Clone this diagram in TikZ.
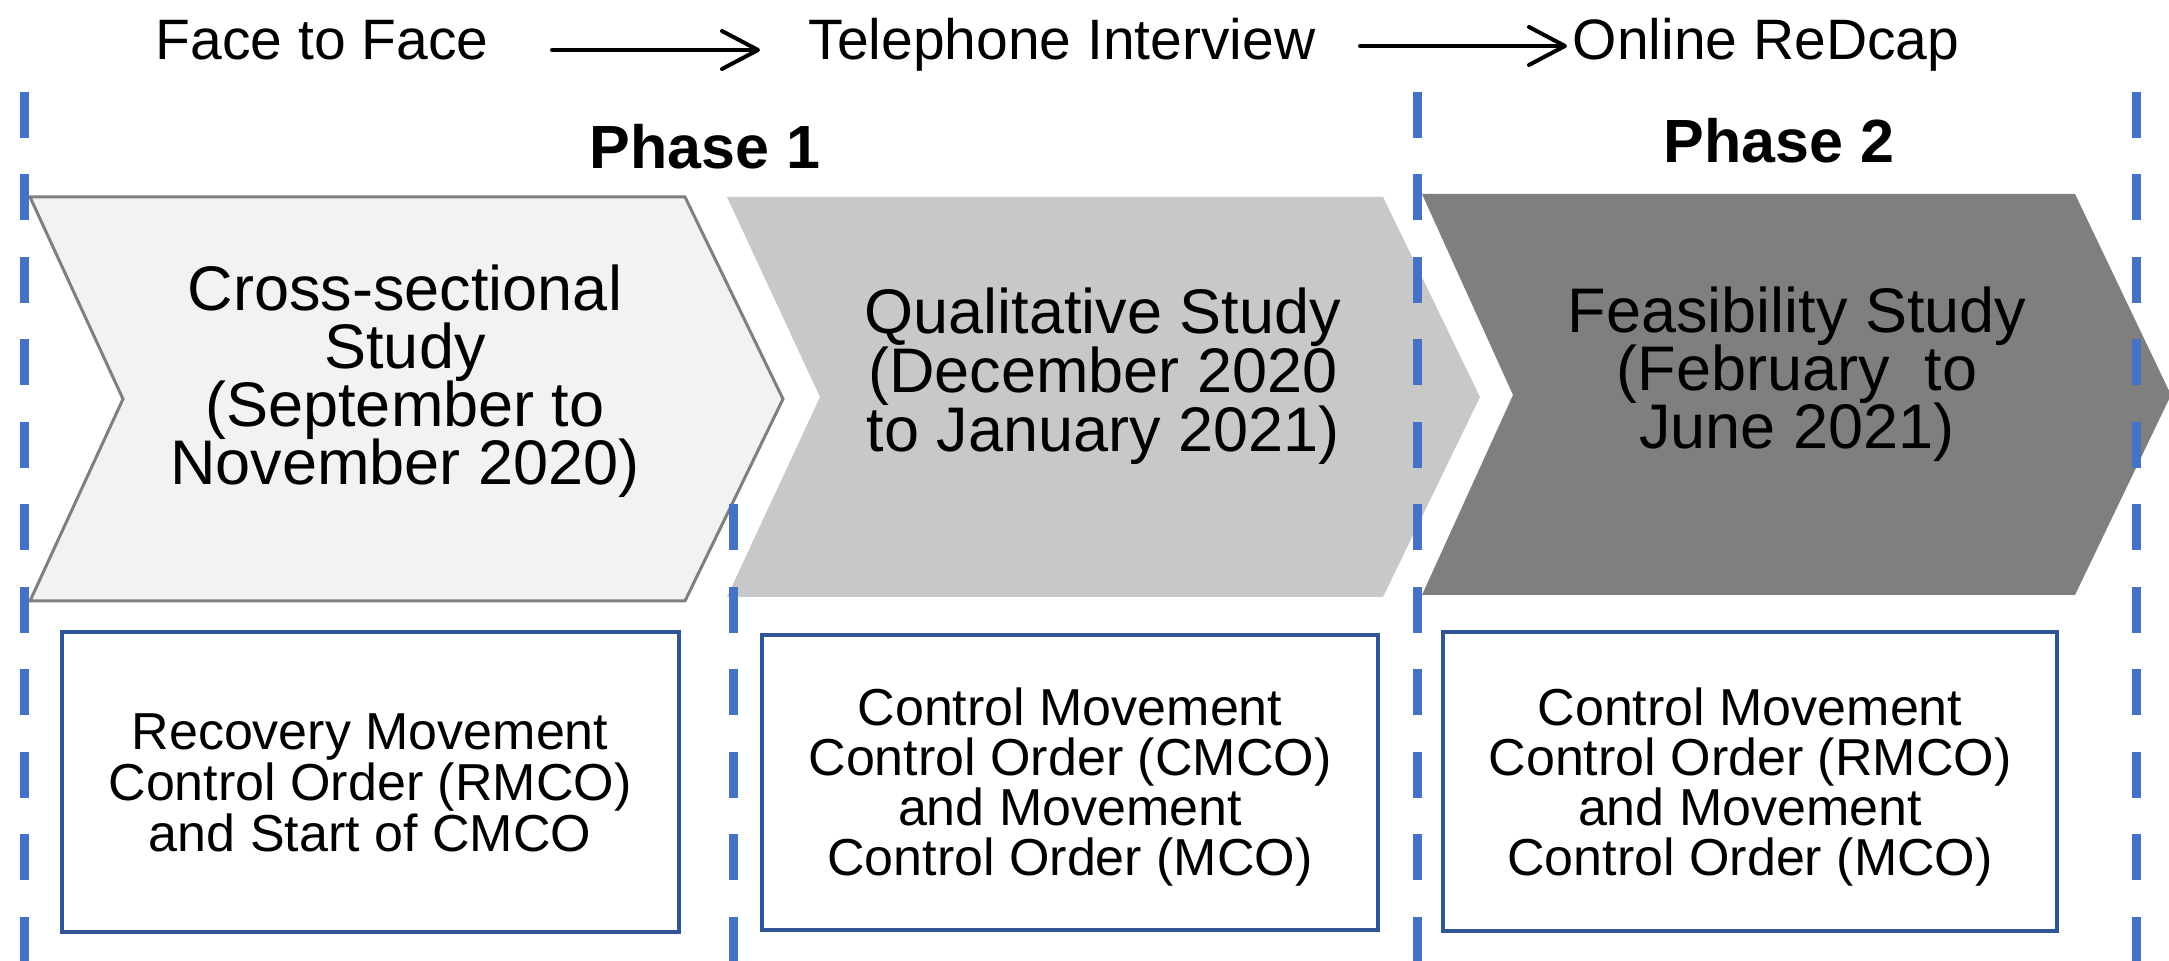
\documentclass[tikz,border=0pt]{standalone}
\usepackage{fontspec}
\setmainfont{Liberation Sans}
\usetikzlibrary{arrows.meta}
\definecolor{dashblue}{HTML}{4472C4}
\definecolor{boxblue}{HTML}{2F5597}
\definecolor{chevA}{HTML}{F2F2F2}
\definecolor{chevAline}{HTML}{7F7F7F}
\definecolor{chevB}{HTML}{C8C8C8}
\definecolor{chevC}{HTML}{7F7F7F}
\newcommand{\mylines}[2]{\vtop{\baselineskip=#1\lineskiplimit=-1000pt\lineskip=0pt\halign{\hfil##\hfil\cr#2\crcr}}}
\begin{document}
\begin{tikzpicture}[x=0.5pt,y=-0.5pt,
  phaseline/.style={draw=dashblue,line width=4.5pt,dash pattern=on 23pt off 18.25pt},
  flowarrow/.style={draw=black,line width=2pt,line cap=round,-{Straight Barb[length=18pt,width=19pt,line width=2pt,round]}},
  toptext/.style={font=\fontsize{28.5pt}{32pt}\selectfont,anchor=base,inner sep=0pt},
  phasetext/.style={font=\bfseries\fontsize{30.5pt}{34pt}\selectfont,anchor=base,inner sep=0pt},
  chevtext/.style={font=\fontsize{31.5pt}{29pt}\selectfont,anchor=base,inner sep=0pt},
  boxtext/.style={font=\fontsize{26pt}{25pt}\selectfont,anchor=base,inner sep=0pt},
  orderbox/.style={draw=boxblue,line width=1.75pt,fill=white}]
\useasboundingbox (0,0) rectangle (2169,961);
\fill[white] (0,0) rectangle (2169,961);
% chevrons
\draw[draw=chevAline,fill=chevA,line width=1.5pt,line join=miter]
  (30,197) -- (685,197) -- (783,399) -- (685,601) -- (30,601) -- (123,399) -- cycle;
\fill[chevB] (727,197) -- (1383,197) -- (1480,397) -- (1383,597) -- (727,597) -- (820,397) -- cycle;
\fill[chevC] (1422,194) -- (2075,194) -- (2171,395) -- (2075,595) -- (1422,595) -- (1513,395) -- cycle;
% boxes
\draw[orderbox] (62,632) rectangle (679,932);
\draw[orderbox] (762,635) rectangle (1378,930);
\draw[orderbox] (1443,632) rectangle (2057,931);
% dashed phase lines
\draw[phaseline] (24,92) -- (24,961);
\draw[phaseline] (733,504.5) -- (733,961);
\draw[phaseline] (1417,92) -- (1417,961);
\draw[phaseline] (2136,92) -- (2136,961);
% top texts and arrows
\node[toptext] (ftf) at (322,60) {Face to Face};
\node[toptext] (tel) at (1062,60) {Telephone Interview};
\node[toptext] (onl) at (1766,60) {Online ReDcap};
\coordinate (a1s) at (552,50);
\coordinate (a1e) at (760,50);
\coordinate (a2s) at (1360,46);
\coordinate (a2e) at (1567,46);
\draw[flowarrow] (a1s) -- (a1e);
\draw[flowarrow] (a2s) -- (a2e);
% phase titles
\node[phasetext] (ph1) at (705,169) {Phase 1};
\node[phasetext] (ph2) at (1779,163) {Phase 2};
% chevron texts
\node[chevtext] (c1) at (405,311) {\mylines{29pt}{Cross-sectional\cr Study\cr (September to\cr November 2020)}};
\node[chevtext] (c2) at (1103,334) {\mylines{29.5pt}{Qualitative Study\cr (December 2020\cr to January 2021)}};
\node[chevtext] (c3) at (1797,333) {\mylines{29pt}{Feasibility Study\cr (February\ \ to\cr June 2021)}};
% box texts
\node[boxtext] (b1) at (370,750) {\mylines{25.5pt}{Recovery Movement\cr Control Order (RMCO)\cr and Start of CMCO}};
\node[boxtext] (b2) at (1070,726) {\mylines{25pt}{Control Movement\cr Control Order (CMCO)\cr and Movement\cr Control Order (MCO)}};
\node[boxtext] (b3) at (1750,726) {\mylines{25pt}{Control Movement\cr Control Order (RMCO)\cr and Movement\cr Control Order (MCO)}};
\end{tikzpicture}
\end{document}
